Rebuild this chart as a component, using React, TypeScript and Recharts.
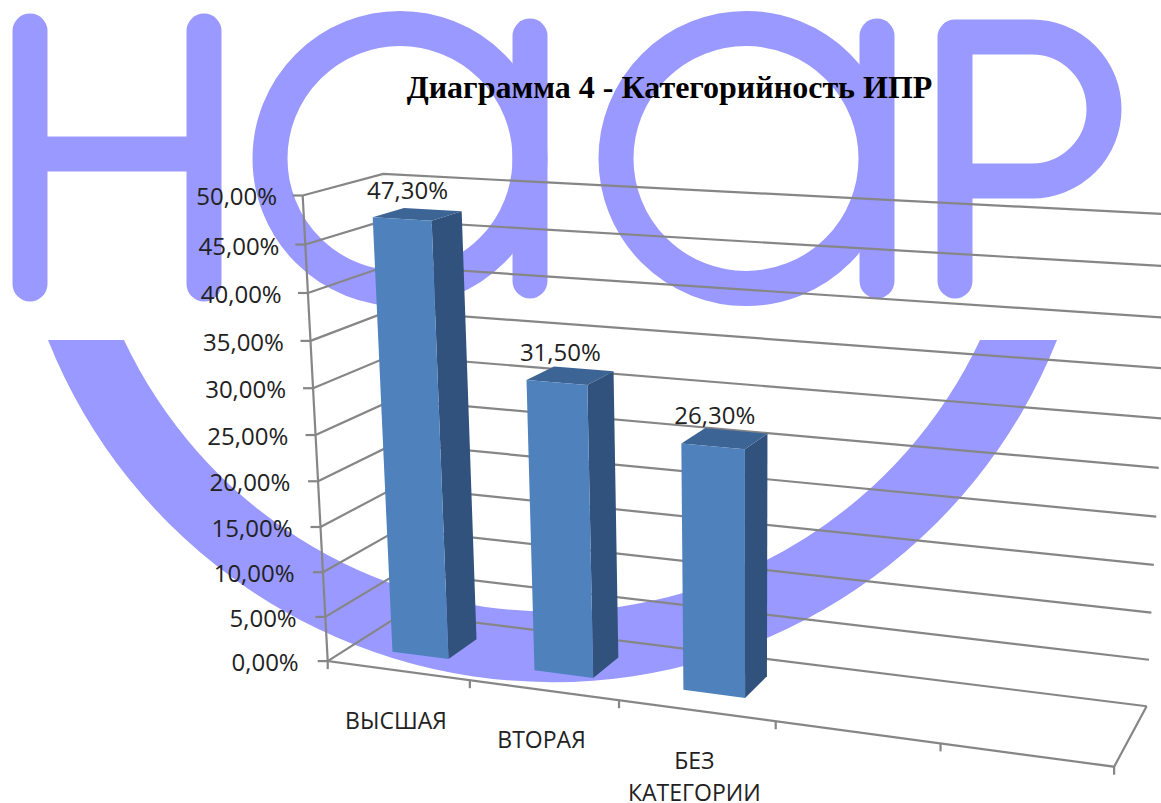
import { BarChart, Bar, XAxis, YAxis, CartesianGrid, LabelList } from "recharts";

const categories = ["ВЫСШАЯ", "ВТОРАЯ", "БЕЗ КАТЕГОРИИ", "", ""];
const shares = [47.3, 31.5, 26.3, null, null];
const yTicks = [0, 5, 10, 15, 20, 25, 30, 35, 40, 45, 50];

const chartData = categories.map((name, i) => ({ name, share: shares[i] }));

const W = 1161;
const H = 803;
// flat plot area, every mark is pushed through project() afterwards
const PLOT = { left: 100, top: 100, width: 800, height: 500 };
const FONT = "'Open Sans', sans-serif";
const LINE = "#868686";

// camera fit: [u, v, w] on the chart box -> pixel on the picture
const anchors: [number, number, number, number, number][] = [
  [0, 0, 0, 327, 661],
  [0, 0.2, 0, 323, 572],
  [0, 0.5, 0, 316, 435],
  [0, 0.7, 0, 311, 340],
  [0, 1, 0, 303, 195],
  [0, 1, 1, 382, 175],
  [0, 0, 1, 403, 614],
  [0.2, 0, 0, 470, 680],
  [0.6, 0, 0, 776, 722],
  [1, 0, 0, 1113, 768],
  [1, 0, 1, 1147, 705],
  [1, 0.5, 1, 1159, 467],
  [1, 1, 1, 1172, 215],
];

function solveCamera() {
  const rows: number[][] = [];
  const rhs: number[] = [];
  for (const [u, v, w, px, py] of anchors) {
    const x = px / 1000;
    const y = py / 1000;
    rows.push([u, v, w, 1, 0, 0, 0, 0, -x * u, -x * v, -x * w]);
    rhs.push(x);
    rows.push([0, 0, 0, 0, u, v, w, 1, -y * u, -y * v, -y * w]);
    rhs.push(y);
  }
  const n = 11;
  const m = Array.from({ length: n }, (_, i) =>
    Array.from({ length: n + 1 }, (_, j) =>
      rows.reduce((s, r, k) => s + r[i] * (j === n ? rhs[k] : r[j]), 0)
    )
  );
  for (let c = 0; c < n; c++) {
    let best = c;
    for (let r = c + 1; r < n; r++) if (Math.abs(m[r][c]) > Math.abs(m[best][c])) best = r;
    [m[c], m[best]] = [m[best], m[c]];
    for (let r = 0; r < n; r++) {
      if (r === c) continue;
      const f = m[r][c] / m[c][c];
      for (let j = c; j <= n; j++) m[r][j] -= f * m[c][j];
    }
  }
  return m.map((r, i) => r[n] / r[i]);
}

const cam = solveCamera();

function project(u: number, v: number, w: number): [number, number] {
  const d = cam[8] * u + cam[9] * v + cam[10] * w + 1;
  return [
    (1000 * (cam[0] * u + cam[1] * v + cam[2] * w + cam[3])) / d,
    (1000 * (cam[4] * u + cam[5] * v + cam[6] * w + cam[7])) / d,
  ];
}

const toU = (x: number) => (x - PLOT.left) / PLOT.width;
const toV = (y: number) => (PLOT.top + PLOT.height - y) / PLOT.height;
const pts = (list: [number, number][]) => list.map((p) => p.join(",")).join(" ");

// bars stand in the middle 40% of the floor depth
const BAR_FRONT = 0.3;
const BAR_BACK = 0.7;

function Bar3D({ x, y, width }: any) {
  const u0 = toU(x);
  const u1 = toU(x + width);
  const v = toV(y);
  return (
    <g>
      <polygon
        fill="#31527C"
        points={pts([
          project(u1, 0, BAR_FRONT),
          project(u1, 0, BAR_BACK),
          project(u1, v, BAR_BACK),
          project(u1, v, BAR_FRONT),
        ])}
      />
      <polygon
        fill="#3C6494"
        points={pts([
          project(u0, v, BAR_FRONT),
          project(u1, v, BAR_FRONT),
          project(u1, v, BAR_BACK),
          project(u0, v, BAR_BACK),
        ])}
      />
      <polygon
        fill="#4F81BD"
        points={pts([
          project(u0, 0, BAR_FRONT),
          project(u1, 0, BAR_FRONT),
          project(u1, v, BAR_FRONT),
          project(u0, v, BAR_FRONT),
        ])}
      />
    </g>
  );
}

function BarLabel({ x, y, width, value }: any) {
  if (value == null) return null;
  const [px, py] = project(toU(x + width / 2), toV(y), 0.5);
  return (
    <text
      x={px - 10}
      y={py - 15}
      textAnchor="middle"
      fontFamily={FONT}
      fontSize={24}
      fill="#222"
    >
      {value.toFixed(2).replace(".", ",") + "%"}
    </text>
  );
}

function GridLine(props: any) {
  const v = toV(props.y1);
  return (
    <polyline
      key={props.key}
      fill="none"
      stroke={LINE}
      strokeWidth={2.2}
      points={pts([project(0, v, 0), project(0, v, 1), project(1, v, 1)])}
    />
  );
}

function YTick({ y, payload }: any) {
  const v = toV(y);
  const [px, py] = project(0, v, 0);
  return (
    <g>
      <line x1={px - 10} y1={py} x2={px} y2={py} stroke={LINE} strokeWidth={2.2} />
      <text x={px - 29 + 3.5 * v} y={py + 10} textAnchor="end" fontFamily={FONT} fontSize={24} fill="#222">
        {payload.value.toFixed(2).replace(".", ",") + "%"}
      </text>
    </g>
  );
}

function XTick({ x, payload }: any) {
  if (!payload.value) return null;
  const [px, py] = project(toU(x), 0, 0);
  return (
    <text textAnchor="middle" fontFamily={FONT} fontSize={23} fill="#222">
      {String(payload.value)
        .split(" ")
        .map((word, i) => (
          <tspan key={word} x={px - 2} y={py + 58 + i * 32}>
            {word}
          </tspan>
        ))}
    </text>
  );
}

// axis line, front and right floor edges, category ticks
function Frame() {
  const a = project(0, 0, 0);
  const b = project(1, 0, 0);
  return (
    <g fill="none" stroke={LINE} strokeWidth={2.2}>
      <polyline points={pts([project(0, 1, 0), a, b, project(1, 0, 1)])} />
      {categories.map((_, i) => {
        const [tx, ty] = project((i + 1) / categories.length, 0, 0);
        return <line key={i} x1={tx} y1={ty} x2={tx} y2={ty + 8} />;
      })}
      <line x1={a[0]} y1={a[1]} x2={a[0]} y2={a[1] + 8} />
    </g>
  );
}

function Watermark() {
  const stroke = { fill: "none", stroke: "#9999FF", strokeWidth: 35, strokeLinecap: "round" as const };
  return (
    <svg width={W} height={H} style={{ position: "absolute", left: 0, top: 0 }}>
      <path {...stroke} d="M30 31V284M204 31V284M30 154H204" />
      <circle {...stroke} cx={400} cy={158.5} r={130} />
      <path {...stroke} d="M530 36V281" />
      <circle {...stroke} cx={746} cy={158.5} r={130} />
      <path {...stroke} d="M877 36V281" />
      <path
        {...stroke}
        strokeLinejoin="round"
        d="M955 281V37H1032A72 72 0 0 1 1032 181H955"
      />
      <path
        fill="#9999FF"
        d="M48 340H124A473 473 0 0 0 980 340H1057A543 543 0 0 1 48 340Z"
      />
    </svg>
  );
}

export default function App() {
  return (
    <div style={{ position: "absolute", left: 0, top: 0, width: W, height: H, overflow: "hidden", background: "#fff" }}>
      <Watermark />
      <div style={{ position: "absolute", left: 0, top: 0 }}>
        <BarChart
          width={W}
          height={H}
          data={chartData}
          barCategoryGap="30%"
          margin={{
            left: PLOT.left - 60,
            top: PLOT.top,
            right: W - PLOT.left - PLOT.width,
            bottom: H - PLOT.top - PLOT.height - 30,
          }}
        >
          <CartesianGrid vertical={false} horizontal={GridLine} />
          <XAxis
            dataKey="name"
            height={30}
            interval={0}
            axisLine={false}
            tickLine={false}
            tick={XTick}
          />
          <YAxis
            width={60}
            domain={[0, 50]}
            ticks={yTicks}
            axisLine={false}
            tickLine={false}
            tick={YTick}
          />
          <Bar dataKey="share" shape={Bar3D} isAnimationActive={false}>
            <LabelList dataKey="share" content={BarLabel} />
          </Bar>
          <Frame />
          <text
            x={669.5}
            y={98}
            textAnchor="middle"
            fontFamily="'Liberation Serif', serif"
            fontWeight="bold"
            fontSize={32}
            fill="#000"
          >
            Диаграмма 4 - Категорийность ИПР
          </text>
        </BarChart>
      </div>
    </div>
  );
}
